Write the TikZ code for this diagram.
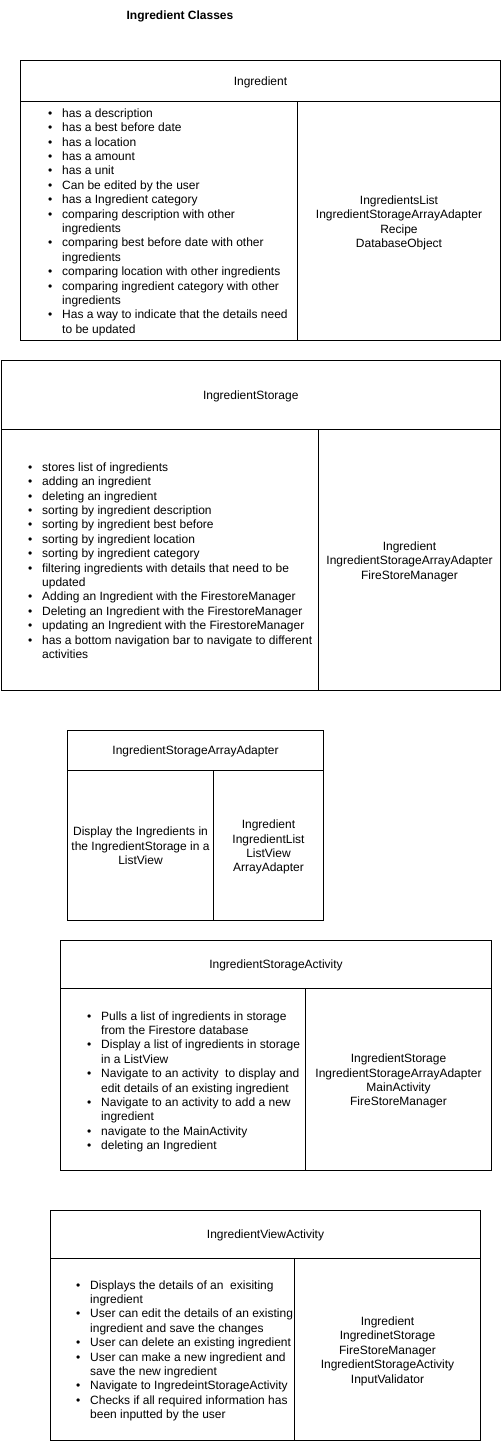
\documentclass[tikz,border=0pt]{standalone}
\usepackage{fontspec}
\setmainfont{Liberation Sans}
\newcommand\dfont{\fontsize{12}{14.4}\selectfont}
\newcommand\itm[1]{\makebox[14pt][l]{\textbullet}#1\strut}
\newcommand\cnt[1]{\hspace*{14pt}#1\strut}
\begin{document}
\begin{tikzpicture}[x=1pt,y=-1pt,
  box/.style={draw=black, line width=1pt, inner sep=0pt, anchor=north west, font=\dfont},
  lst/.style={align=left, inner sep=0pt, anchor=west, font=\dfont, yshift=-2pt},
  ctr/.style={align=center, inner sep=0pt, font=\dfont, yshift=-2pt},
  hdr/.style={inner sep=0pt, font=\dfont, yshift=-1pt}]
\useasboundingbox (0,0) rectangle (501,1441);
\node[font=\dfont\bfseries, inner sep=0pt] (title) at (180,16) {Ingredient Classes};

% Ingredient
\node[box, minimum width=480, minimum height=41] (ingH) at (20,60) {};
\node[hdr] (ingT) at (ingH.center) {Ingredient};
\node[box, minimum width=277, minimum height=239] (ingL) at (20,101) {};
\node[box, minimum width=203, minimum height=239] (ingR) at (297,101) {};
\node[lst] (ingList) at (48,220.5) {\itm{has a description}\\
\itm{has a best before date}\\
\itm{has a location}\\
\itm{has a amount}\\
\itm{has a unit}\\
\itm{Can be edited by the user}\\
\itm{has a Ingredient category}\\
\itm{comparing description with other}\\
\cnt{ingredients}\\
\itm{comparing best before date with other}\\
\cnt{ingredients}\\
\itm{comparing location with other ingredients}\\
\itm{comparing ingredient category with other}\\
\cnt{ingredients}\\
\itm{Has a way to indicate that the details need}\\
\cnt{to be updated}};
\node[ctr] (ingCol) at (ingR.center) {\strut IngredientsList\\IngredientStorageArrayAdapter\\Recipe\\DatabaseObject\strut};

% IngredientStorage
\node[box, minimum width=499.5, minimum height=69] (stoH) at (0.5,360) {};
\node[hdr] (stoT) at (stoH.center) {IngredientStorage};
\node[box, minimum width=317.5, minimum height=261] (stoL) at (0.5,429) {};
\node[box, minimum width=182, minimum height=261] (stoR) at (318,429) {};
\node[lst] (stoList) at (28,560) {\itm{stores list of ingredients}\\
\itm{adding an ingredient}\\
\itm{deleting an ingredient}\\
\itm{sorting by ingredient description}\\
\itm{sorting by ingredient best before}\\
\itm{sorting by ingredient location}\\
\itm{sorting by ingredient category}\\
\itm{filtering ingredients with details that need to be}\\
\cnt{updated}\\
\itm{Adding an Ingredient with the FirestoreManager}\\
\itm{Deleting an Ingredient with the FirestoreManager}\\
\itm{updating an Ingredient with the FirestoreManager}\\
\itm{has a bottom navigation bar to navigate to different}\\
\cnt{activities}};
\node[ctr] (stoCol) at (stoR.center) {\strut Ingredient\\IngredientStorageArrayAdapter\\FireStoreManager\strut};

% IngredientStorageArrayAdapter
\node[box, minimum width=256, minimum height=40] (adaH) at (67,730) {};
\node[hdr] (adaT) at (adaH.center) {IngredientStorageArrayAdapter};
\node[box, minimum width=146, minimum height=150] (adaL) at (67,770) {};
\node[box, minimum width=110, minimum height=150] (adaR) at (213,770) {};
\node[ctr] (adaText) at (adaL.center) {\strut Display the Ingredients in\\the IngredientStorage in a\\ListView\strut};
\node[ctr] (adaCol) at (adaR.center) {\strut Ingredient\\IngredientList\\ListView\\ArrayAdapter\strut};

% IngredientStorageActivity
\node[box, minimum width=431, minimum height=48] (actH) at (60,940) {};
\node[hdr] (actT) at (actH.center) {IngredientStorageActivity};
\node[box, minimum width=245, minimum height=182] (actL) at (60,988) {};
\node[box, minimum width=186, minimum height=182] (actR) at (305,988) {};
\node[lst] (actList) at (87,1080) {\itm{Pulls a list of ingredients in storage}\\
\cnt{from the Firestore database}\\
\itm{Display a list of ingredients in storage}\\
\cnt{in a ListView}\\
\itm{Navigate to an activity\ \ to display and}\\
\cnt{edit details of an existing ingredient}\\
\itm{Navigate to an activity to add a new}\\
\cnt{ingredient}\\
\itm{navigate to the MainActivity}\\
\itm{deleting an Ingredient}};
\node[ctr] (actCol) at (actR.center) {\strut IngredientStorage\\IngredientStorageArrayAdapter\\MainActivity\\FireStoreManager\strut};

% IngredientViewActivity
\node[box, minimum width=430, minimum height=48] (viwH) at (50,1210) {};
\node[hdr] (viwT) at (viwH.center) {IngredientViewActivity};
\node[box, minimum width=244, minimum height=182] (viwL) at (50,1258) {};
\node[box, minimum width=186, minimum height=182] (viwR) at (294,1258) {};
\node[lst] (viwList) at (76,1349) {\itm{Displays the details of an\ \ exisiting}\\
\cnt{ingredient}\\
\itm{User can edit the details of an existing}\\
\cnt{ingredient and save the changes}\\
\itm{User can delete an existing ingredient}\\
\itm{User can make a new ingredient and}\\
\cnt{save the new ingredient}\\
\itm{Navigate to IngredeintStorageActivity}\\
\itm{Checks if all required information has}\\
\cnt{been inputted by the user}};
\node[ctr] (viwCol) at (viwR.center) {\strut Ingredient\\IngredinetStorage\\FireStoreManager\\IngredientStorageActivity\\InputValidator\strut};
\end{tikzpicture}
\end{document}
